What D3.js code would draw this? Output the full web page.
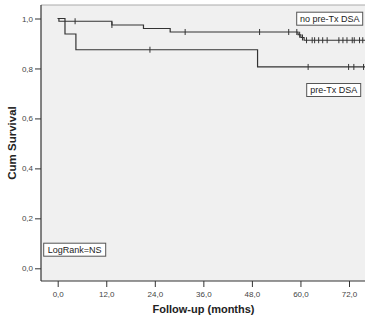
<!DOCTYPE html>
<html><head><meta charset="utf-8">
<script src="https://cdn.jsdelivr.net/npm/d3@7"></script>
<style>body{margin:0;background:#fff}svg{display:block}text{font-family:"Liberation Sans",Arial,sans-serif}</style>
</head><body><svg id="c" width="365" height="321"></svg>
<script>
const xTicks = [0, 12, 24, 36, 48, 60, 72];
const yTicks = [0, 0.2, 0.4, 0.6, 0.8, 1.0];
const noDsaTimes = [0, 0.3, 13.4, 21.2, 27.8, 59.4, 60.1, 60.9, 80];
const noDsaSurv  = [1.0, 0.989, 0.974, 0.960, 0.946, 0.935, 0.924, 0.913, 0.913];
const noDsaCensor = [4.3, 13.4, 31.5, 49.9, 57.1, 59.1, 59.8, 60.5, 61.5, 62.9, 63.5, 64.5, 65.5, 66.6, 69.5, 70.5, 71.5, 72.8, 73.3, 74.6, 75.4];
const preDsaTimes = [0, 1.8, 4.5, 49.4, 80];
const preDsaSurv  = [1.0, 0.938, 0.875, 0.806, 0.806];
const preDsaCensor = [22.8, 61.9, 71.9, 73.2, 75.6];
const seriesLabels = ["no pre-Tx DSA", "pre-Tx DSA"];
const statLabel = "LogRank=NS";

const svg = d3.select("#c");
const x = d3.scaleLinear().domain([0, 72]).range([57.7, 349]);
const y = d3.scaleLinear().domain([0, 1]).range([268.3, 18.5]);
const L = 41, T = 5, R = 367, B = 281;

svg.append("rect").attr("x", L).attr("y", T).attr("width", R - L).attr("height", B - T).attr("fill", "#f0f0f0");
svg.append("line").attr("x1", L).attr("x2", R).attr("y1", T).attr("y2", T).attr("stroke", "#aaa").attr("stroke-width", 1);
svg.append("clipPath").attr("id", "clip").append("rect").attr("x", L).attr("y", T).attr("width", R - L).attr("height", B - T);

const yAxis = svg.append("g").attr("transform", `translate(${L},0)`)
  .call(d3.axisLeft(y).tickValues(yTicks).tickSize(6).tickSizeOuter(0).tickFormat(d => d3.format(".1f")(d).replace(".", ",")));
yAxis.select(".domain").attr("d", `M0,${T}V${B}`).attr("stroke", "#333").attr("stroke-width", 1.2);
yAxis.selectAll(".tick line").attr("stroke", "#333");
yAxis.selectAll("text").attr("font-size", 8).attr("fill", "#444").attr("x", -8);

const xAxis = svg.append("g").attr("transform", `translate(0,${B})`)
  .call(d3.axisBottom(x).tickValues(xTicks).tickSize(6).tickSizeOuter(0).tickFormat(d => d3.format(".1f")(d).replace(".", ",")));
xAxis.select(".domain").attr("d", `M${L},0H${R}`).attr("stroke", "#333").attr("stroke-width", 1.2);
xAxis.selectAll(".tick line").attr("stroke", "#333");
xAxis.selectAll("text").attr("font-size", 8).attr("fill", "#444").attr("y", 10);

const g = svg.append("g").attr("clip-path", "url(#clip)");
const line = d3.line().x(d => x(d[0])).y(d => y(d[1])).curve(d3.curveStepAfter);
function survAt(times, surv, t) { let s = surv[0]; for (let i = 0; i < times.length; i++) if (times[i] <= t) s = surv[i]; return s; }
[[noDsaTimes, noDsaSurv, noDsaCensor], [preDsaTimes, preDsaSurv, preDsaCensor]].forEach(([ts, ss, cs]) => {
  g.append("path").datum(ts.map((t, i) => [t, ss[i]])).attr("d", line).attr("fill", "none").attr("stroke", "#333").attr("stroke-width", 1.2);
  g.selectAll(null).data(cs).enter().append("line")
    .attr("x1", d => x(d)).attr("x2", d => x(d))
    .attr("y1", d => y(survAt(ts, ss, d)) - 3).attr("y2", d => y(survAt(ts, ss, d)) + 3)
    .attr("stroke", "#333").attr("stroke-width", 1);
});

function box(cx, cy, w, h, txt) {
  svg.append("rect").attr("x", cx - w / 2).attr("y", cy - h / 2).attr("width", w).attr("height", h)
    .attr("fill", "#fff").attr("stroke", "#555").attr("stroke-width", 1);
  svg.append("text").attr("x", cx).attr("y", cy).attr("dy", "0.35em").attr("text-anchor", "middle")
    .attr("font-size", 9).attr("fill", "#222").text(txt);
}
box(329.7, 18.7, 66, 13, seriesLabels[0]);
box(333.7, 90, 54, 13, seriesLabels[1]);
box(74.7, 249.7, 62, 13, statLabel);

svg.append("text").attr("x", 203.5).attr("y", 313).attr("text-anchor", "middle").attr("font-size", 11).attr("font-weight", "bold").attr("fill", "#222").text("Follow-up (months)");
svg.append("text").attr("transform", "translate(16,143) rotate(-90)").attr("text-anchor", "middle").attr("font-size", 11.5).attr("font-weight", "bold").attr("fill", "#222").text("Cum Survival");
</script></body></html>
